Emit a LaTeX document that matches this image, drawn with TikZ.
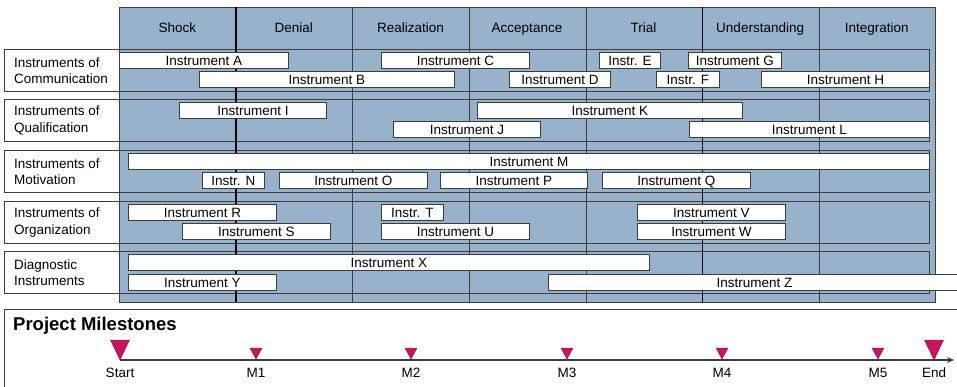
\documentclass[tikz,border=0pt]{standalone}
\usepackage{fontspec}
\setmainfont{Liberation Sans}
\usetikzlibrary{arrows.meta}
\definecolor{phaseblue}{HTML}{98B2CC}
\definecolor{edgegray}{HTML}{3C3C3C}
\definecolor{milecol}{HTML}{C8145F}
\tikzset{
  ibox/.style={draw=edgegray, fill=white, line width=0.8pt, minimum height=16pt, inner sep=0pt, text height=10.3pt, text depth=0pt, font=\fontsize{13.5}{14}\selectfont},
  phasetxt/.style={font=\fontsize{13.5}{14}\selectfont, inner sep=0pt, text height=9.7pt, text depth=0pt},
  grouplbl/.style={align=left, anchor=west, inner sep=0pt, font=\fontsize{13.5}{16.5}\selectfont},
  groupbox/.style={draw=edgegray, line width=0.8pt},
  thinsep/.style={draw=edgegray, line width=0.8pt},
  thicksep/.style={draw=black, line width=1.8pt},
  miletri/.style={fill=milecol, draw=milecol!70!black, line width=0.4pt},
  miletxt/.style={font=\fontsize{13.5}{14}\selectfont, inner sep=0pt, text height=9.7pt, text depth=0pt},
}
\newcommand{\ibar}[5]{\node[ibox, minimum width={#2-#1}, anchor=west] (#4) at (#1,#3) {#5};}
\newcommand{\grp}[3]{%
  \path[groupbox, fill=white] (4,#1) rectangle (119,#1+42.5);
  \draw[groupbox] (4,#1) rectangle (929,#1+42.5);
  \node[grouplbl] (#2) at (14,#1+21.5) {#3};}
\begin{document}
\begin{tikzpicture}[x=1pt, y=-1pt]
\useasboundingbox (0,0) rectangle (957,386);
% phase area
\node[draw=edgegray, fill=phaseblue, line width=0.8pt, minimum width=816pt, minimum height=295pt, anchor=north west, inner sep=0pt] (area) at (119,7) {};
% groups
\grp{49}{g1}{Instruments of\\Communication}
\grp{99}{g2}{Instruments of\\Qualification}
\grp{150}{g3}{Instruments of\\Motivation}
\grp{201}{g4}{Instruments of\\Organization}
\grp{251}{g5}{Diagnostic\\Instruments}
% column separators
\foreach \x in {352.6,469.3,585.9,819.1} \draw[thinsep] (\x,7) -- (\x,302);
\foreach \x in {235.6,702.4} \draw[thicksep] (\x,7) -- (\x,302);
% phase headers
\foreach \t [count=\i] in {Shock,Denial,Realization,Acceptance,Trial,Understanding,Integration}
  \node[phasetxt] (ph\i) at ({119+116.57*(\i-0.5)},28) {\t};
% bars: communication
\ibar{119}{288}{60}{iA}{Instrument A}
\ibar{381}{529}{60}{iC}{Instrument C}
\ibar{599}{660}{60}{iE}{Instr. E}
\ibar{688}{781}{60}{iG}{Instrument G}
\ibar{199}{454}{79.5}{iB}{Instrument B}
\ibar{509}{610}{79.5}{iD}{Instrument D}
\ibar{656}{719}{79.5}{iF}{Instr. F}
\ibar{761}{929}{79.5}{iH}{Instrument H}
% qualification
\ibar{179}{326}{110.5}{iI}{Instrument I}
\ibar{477}{742}{110.5}{iK}{Instrument K}
\ibar{393}{540}{129.5}{iJ}{Instrument J}
\ibar{689}{929}{129.5}{iL}{Instrument L}
% motivation
\ibar{128}{929}{161.5}{iM}{Instrument M}
\ibar{202}{264}{180.5}{iN}{Instr. N}
\ibar{279}{427}{180.5}{iO}{Instrument O}
\ibar{440}{587}{180.5}{iP}{Instrument P}
\ibar{602}{750}{180.5}{iQ}{Instrument Q}
% organization
\ibar{128}{276}{212}{iR}{Instrument R}
\ibar{381}{443}{212}{iT}{Instr. T}
\ibar{637}{785}{212}{iV}{Instrument V}
\ibar{182}{330}{231.5}{iS}{Instrument S}
\ibar{381}{529}{231.5}{iU}{Instrument U}
\ibar{637}{785}{231.5}{iW}{Instrument W}
% diagnostic
\ibar{128}{649}{262.5}{iX}{Instrument X}
\ibar{128}{276}{282}{iY}{Instrument Y}
\ibar{548}{960}{282}{iZ}{Instrument Z}
% milestones
\draw[groupbox] (960,309) -- (4,309) -- (4,390);
\node[anchor=west, inner sep=0pt, font=\fontsize{18.5}{20}\selectfont\bfseries] (pm) at (13,326) {Project Milestones};
\coordinate (tstart) at (120,360);
\coordinate (tend) at (954,360);
\draw[edgegray, line width=1.3pt, -{Stealth[length=7pt,width=6pt]}] (tstart) -- (tend);
\foreach \x/\n/\s in {120/Start/9.5, 256/M1/6, 411/M2/6, 567/M3/6, 722/M4/6, 878/M5/6, 934/End/9.5}{
  \ifdim\s pt>7pt
    \draw[miletri] (\x-\s,340) -- (\x+\s,340) -- (\x,360) -- cycle;
  \else
    \draw[miletri] (\x-\s,348) -- (\x+\s,348) -- (\x,359) -- cycle;
  \fi
  \node[miletxt] (lbl\n) at (\x,373) {\n};
}
\end{tikzpicture}
\end{document}
